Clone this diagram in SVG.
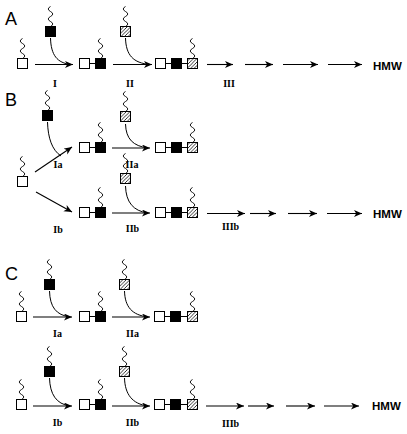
<svg xmlns="http://www.w3.org/2000/svg" width="407" height="434" viewBox="0 0 407 434">
<style>
.o{fill:#fff;stroke:#000;stroke-width:1}
.k{fill:#000;stroke:#000;stroke-width:1}
.h{fill:url(#hatch);stroke:#000;stroke-width:1}
.ln{stroke:#000;stroke-width:1;fill:none}
.wv{fill:none;stroke:#000;stroke-width:0.9}
.ar{stroke:#000;stroke-width:1.1;fill:none;marker-end:url(#ah)}
.cv{stroke:#000;stroke-width:1;fill:none}
.sec{font-family:"Liberation Sans",Arial,sans-serif;font-size:18px;fill:#000}
.lb{font-family:"Liberation Serif","Times New Roman",serif;font-weight:bold;font-size:10px;fill:#000}
.hmw{font-family:"Liberation Sans",Arial,sans-serif;font-weight:bold;font-size:11.5px;fill:#000}
</style>
<defs>
<pattern id="hatch" patternUnits="userSpaceOnUse" width="3.5" height="3.5">
<rect width="3.5" height="3.5" fill="#fff"/>
<path d="M-1,1 L1,-1 M0,3.5 L3.5,0 M2.5,4.5 L4.5,2.5" stroke="#000" stroke-width="0.8"/>
</pattern>
<marker id="ah" markerUnits="userSpaceOnUse" markerWidth="10" markerHeight="8" refX="8" refY="3.5" orient="auto">
<path d="M0,0 L8,3.5 L0,7 L2.2,3.5 z" fill="#000"/>
</marker>
<path id="w" class="wv" d="M0,0 q4.5,-2.5 0,-5 t0,-5 t0,-5 t0,-5"/>
</defs>

<!-- Section labels -->
<text class="sec" x="5" y="25">A</text>
<text class="sec" x="5" y="106">B</text>
<text class="sec" x="5" y="280">C</text>

<!-- ===== A ===== -->
<g id="A-mono"><use href="#w" x="22.5" y="58.5"/><rect class="o" x="17.5" y="58.5" width="10" height="10"/></g>
<g id="A-black"><use href="#w" x="50.5" y="26.5"/><rect class="k" x="45.5" y="26.5" width="10" height="10"/></g>
<g id="A-dimer"><line class="ln" x1="89.5" y1="63.5" x2="95.5" y2="63.5"/><rect class="o" x="79.5" y="58.5" width="10" height="10"/><rect class="k" x="95.5" y="58.5" width="10" height="10"/><use href="#w" x="100.5" y="58.5"/></g>
<g id="A-hatch"><use href="#w" x="125.5" y="26.5"/><rect class="h" x="120.5" y="26.5" width="10" height="10"/></g>
<g id="A-trimer"><line class="ln" x1="165.5" y1="63.5" x2="187.5" y2="63.5"/><rect class="o" x="155.5" y="58.5" width="10" height="10"/><rect class="k" x="171.5" y="58.5" width="10" height="10"/><rect class="h" x="187.5" y="58.5" width="10" height="10"/><use href="#w" x="192.5" y="58.5"/></g>
<g id="A-hmw"><text class="hmw" x="373" y="69.5">HMW</text></g>

<!-- ===== B ===== -->
<g id="B-black"><use href="#w" x="47.5" y="110.5"/><rect class="k" x="42.5" y="110.5" width="10" height="10"/></g>
<g id="B-mono"><use href="#w" x="22.5" y="176.5"/><rect class="o" x="17.5" y="176.5" width="10" height="10"/></g>
<g id="B-dimer-a"><line class="ln" x1="89.5" y1="147.5" x2="95.5" y2="147.5"/><rect class="o" x="79.5" y="142.5" width="10" height="10"/><rect class="k" x="95.5" y="142.5" width="10" height="10"/><use href="#w" x="100.5" y="142.5"/></g>
<g id="B-dimer-b"><line class="ln" x1="89.5" y1="212.5" x2="95.5" y2="212.5"/><rect class="o" x="79.5" y="207.5" width="10" height="10"/><rect class="k" x="95.5" y="207.5" width="10" height="10"/><use href="#w" x="100.5" y="207.5"/></g>
<g id="B-hatch-a"><use href="#w" x="125.5" y="111.5"/><rect class="h" x="120.5" y="111.5" width="10" height="10"/></g>
<g id="B-hatch-b"><use href="#w" x="125.5" y="173.5"/><rect class="h" x="120.5" y="173.5" width="10" height="10"/></g>
<g id="B-trimer-a"><line class="ln" x1="165.5" y1="147.5" x2="187.5" y2="147.5"/><rect class="o" x="155.5" y="142.5" width="10" height="10"/><rect class="k" x="171.5" y="142.5" width="10" height="10"/><rect class="h" x="187.5" y="142.5" width="10" height="10"/><use href="#w" x="192.5" y="142.5"/></g>
<g id="B-trimer-b"><line class="ln" x1="165.5" y1="212.5" x2="187.5" y2="212.5"/><rect class="o" x="155.5" y="207.5" width="10" height="10"/><rect class="k" x="171.5" y="207.5" width="10" height="10"/><rect class="h" x="187.5" y="207.5" width="10" height="10"/><use href="#w" x="192.5" y="207.5"/></g>
<g id="B-hmw"><text class="hmw" x="373" y="218">HMW</text></g>

<!-- ===== C ===== -->
<g id="C-black-a"><use href="#w" x="49.5" y="279.5"/><rect class="k" x="44.5" y="279.5" width="10" height="10"/></g>
<g id="C-mono-a"><use href="#w" x="21.5" y="311.5"/><rect class="o" x="16.5" y="311.5" width="10" height="10"/></g>
<g id="C-dimer-a"><line class="ln" x1="89.5" y1="316.5" x2="95.5" y2="316.5"/><rect class="o" x="79.5" y="311.5" width="10" height="10"/><rect class="k" x="95.5" y="311.5" width="10" height="10"/><use href="#w" x="100.5" y="311.5"/></g>
<g id="C-hatch-a"><use href="#w" x="124.5" y="279.5"/><rect class="h" x="119.5" y="279.5" width="10" height="10"/></g>
<g id="C-trimer-a"><line class="ln" x1="164.5" y1="316.5" x2="187.5" y2="316.5"/><rect class="o" x="154.5" y="311.5" width="10" height="10"/><rect class="k" x="170.5" y="311.5" width="10" height="10"/><rect class="h" x="187.5" y="311.5" width="10" height="10"/><use href="#w" x="192.5" y="311.5"/></g>

<g id="C-black-b"><use href="#w" x="49.5" y="366.5"/><rect class="k" x="44.5" y="366.5" width="10" height="10"/></g>
<g id="C-mono-b"><use href="#w" x="21.5" y="399.5"/><rect class="o" x="16.5" y="399.5" width="10" height="10"/></g>
<g id="C-dimer-b"><line class="ln" x1="89.5" y1="404.5" x2="95.5" y2="404.5"/><rect class="o" x="79.5" y="399.5" width="10" height="10"/><rect class="k" x="95.5" y="399.5" width="10" height="10"/><use href="#w" x="100.5" y="399.5"/></g>
<g id="C-hatch-b"><use href="#w" x="124.5" y="366.5"/><rect class="h" x="119.5" y="366.5" width="10" height="10"/></g>
<g id="C-trimer-b"><line class="ln" x1="164.5" y1="404.5" x2="187.5" y2="404.5"/><rect class="o" x="154.5" y="399.5" width="10" height="10"/><rect class="k" x="170.5" y="399.5" width="10" height="10"/><rect class="h" x="187.5" y="399.5" width="10" height="10"/><use href="#w" x="192.5" y="399.5"/></g>
<g id="C-hmw"><text class="hmw" x="372" y="410">HMW</text></g>

<!-- Connectors -->
<g id="connectors">
<!-- A -->
<path class="cv" d="M50.5,38 C51,55 57,63 71,64.5"/>
<line class="ar" x1="35" y1="64.5" x2="73" y2="64.5"/>
<path class="cv" d="M125.5,38 C126,55 133,63 150,64.5"/>
<line class="ar" x1="113" y1="64.5" x2="152" y2="64.5"/>
<line class="ar" x1="207" y1="64.5" x2="233" y2="64.5"/>
<line class="ar" x1="245" y1="64.5" x2="273" y2="64.5"/>
<line class="ar" x1="283" y1="64.5" x2="318" y2="64.5"/>
<line class="ar" x1="328" y1="64.5" x2="362" y2="64.5"/>
<!-- B -->
<path class="cv" d="M47.5,122 C48,138 52,150 61,156"/>
<line class="ar" x1="35" y1="172" x2="72" y2="147"/>
<line class="ar" x1="36" y1="192" x2="72" y2="212"/>
<path class="cv" d="M125.5,124 C126,139 133,146 148,148"/>
<line class="ar" x1="112" y1="148" x2="150" y2="148"/>
<path class="cv" d="M125.5,186 C126,202 133,211 148,213"/>
<line class="ar" x1="112" y1="213" x2="150" y2="213"/>
<line class="ar" x1="207" y1="213.5" x2="245" y2="213.5"/>
<line class="ar" x1="250" y1="213.5" x2="276" y2="213.5"/>
<line class="ar" x1="288" y1="213.5" x2="317" y2="213.5"/>
<line class="ar" x1="327" y1="213.5" x2="362" y2="213.5"/>
<!-- C -->
<path class="cv" d="M49.5,291 C50,307 56,315 70,317"/>
<line class="ar" x1="33" y1="317" x2="72" y2="317"/>
<path class="cv" d="M124.5,291 C125,307 132,315 148,317"/>
<line class="ar" x1="112" y1="317" x2="150" y2="317"/>
<path class="cv" d="M49.5,378 C50,394 56,404 70,406"/>
<line class="ar" x1="33" y1="406" x2="72" y2="406"/>
<path class="cv" d="M124.5,378 C125,394 132,404 148,406"/>
<line class="ar" x1="112" y1="406" x2="150" y2="406"/>
<line class="ar" x1="206" y1="406" x2="244" y2="406"/>
<line class="ar" x1="248" y1="406" x2="274" y2="406"/>
<line class="ar" x1="286" y1="406" x2="315" y2="406"/>
<line class="ar" x1="324" y1="406" x2="359" y2="406"/>
</g>

<!-- Step labels -->
<g id="labels">
<text class="lb" x="55" y="87" text-anchor="middle">I</text>
<text class="lb" x="130" y="87" text-anchor="middle">II</text>
<text class="lb" x="229" y="87" text-anchor="middle">III</text>
<text class="lb" x="58" y="168" text-anchor="middle">Ia</text>
<text class="lb" x="132" y="168" text-anchor="middle">IIa</text>
<text class="lb" x="58" y="233" text-anchor="middle">Ib</text>
<text class="lb" x="132.5" y="232" text-anchor="middle">IIb</text>
<text class="lb" x="230.5" y="230" text-anchor="middle">IIIb</text>
<text class="lb" x="57.5" y="337" text-anchor="middle">Ia</text>
<text class="lb" x="132.5" y="337" text-anchor="middle">IIa</text>
<text class="lb" x="57.5" y="426" text-anchor="middle">Ib</text>
<text class="lb" x="132.5" y="426" text-anchor="middle">IIb</text>
<text class="lb" x="230.5" y="427" text-anchor="middle">IIIb</text>
</g>
</svg>
